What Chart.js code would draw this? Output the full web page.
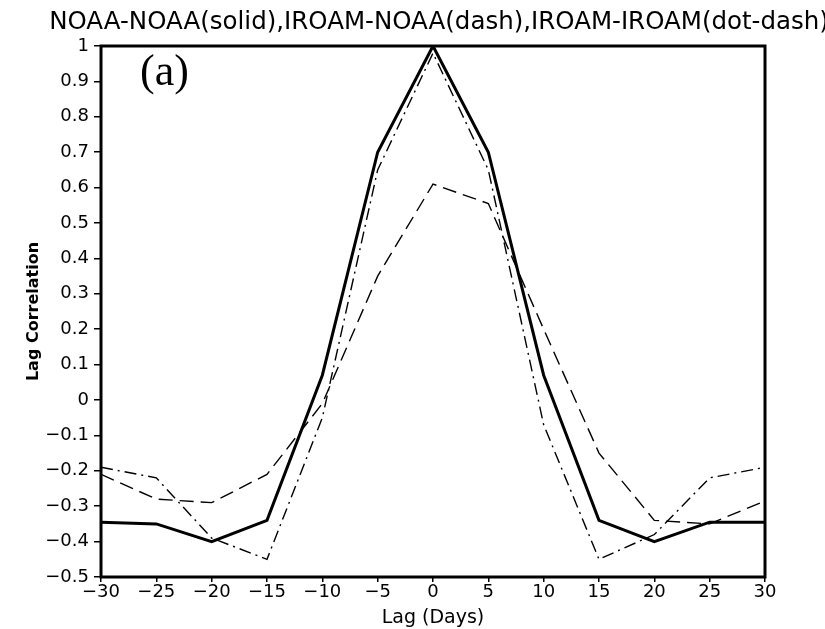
<!DOCTYPE html>
<html>
<head>
<meta charset="utf-8">
<script src="https://cdn.jsdelivr.net/npm/chart.js@4.4.1/dist/chart.umd.min.js"></script>
<style>
  html, body { margin: 0; padding: 0; background: #ffffff; }
  #wrap { width: 825px; height: 629px; }
</style>
</head>
<body>
<div id="wrap"><canvas id="lagChart" width="825" height="629"></canvas></div>
<script>
const lagDays = [-30, -25, -20, -15, -10, -5, 0, 5, 10, 15, 20, 25, 30];
const noaaNoaa = [-0.345, -0.35, -0.40, -0.34, 0.07, 0.70, 1.0, 0.70, 0.07, -0.34, -0.40, -0.345, -0.345];
const iroamNoaa = [-0.21, -0.28, -0.29, -0.21, -0.01, 0.35, 0.61, 0.555, 0.20, -0.15, -0.34, -0.35, -0.285];
const iroamIroam = [-0.19, -0.22, -0.39, -0.45, -0.05, 0.65, 0.98, 0.65, -0.07, -0.45, -0.38, -0.22, -0.19];

const titleText = "NOAA-NOAA(solid),IROAM-NOAA(dash),IROAM-IROAM(dot-dash)";
const panelLabel = "(a)";

function toPoints(values) {
  return lagDays.map((d, i) => ({ x: d, y: values[i] }));
}

// frame round the plot, title on top and the panel letter
const frameAndText = {
  id: "frameAndText",
  afterDraw(chart) {
    const { ctx, chartArea } = chart;
    ctx.save();
    ctx.strokeStyle = "#000";
    ctx.lineWidth = 3;
    ctx.strokeRect(chartArea.left, chartArea.top, chartArea.right - chartArea.left, chartArea.bottom - chartArea.top);

    ctx.fillStyle = "#000";
    ctx.font = "24.5px 'DejaVu Sans'";
    ctx.textBaseline = "middle";
    ctx.textAlign = "center";
    ctx.fillText(titleText, (chartArea.left + chartArea.right) / 2 + 6, 23);

    ctx.font = "44px 'Liberation Serif'";
    ctx.textAlign = "left";
    ctx.textBaseline = "alphabetic";
    ctx.fillText(panelLabel, chartArea.left + 39, chartArea.top + 39);
    ctx.restore();
  },
};

const ctx = document.getElementById("lagChart").getContext("2d");
new Chart(ctx, {
  type: "line",
  data: {
    datasets: [
      {
        label: "NOAA-NOAA",
        data: toPoints(noaaNoaa),
        borderColor: "#000",
        borderWidth: 3,
        pointRadius: 0,
        tension: 0,
      },
      {
        label: "IROAM-NOAA",
        data: toPoints(iroamNoaa),
        borderColor: "#000",
        borderWidth: 1.4,
        borderDash: [14, 7],
        pointRadius: 0,
        tension: 0,
      },
      {
        label: "IROAM-IROAM",
        data: toPoints(iroamIroam),
        borderColor: "#000",
        borderWidth: 1.4,
        borderDash: [12, 5, 2, 5],
        pointRadius: 0,
        tension: 0,
      },
    ],
  },
  options: {
    responsive: false,
    animation: false,
    layout: { padding: { top: 46, right: 60, bottom: 0, left: 0 } },
    plugins: { legend: { display: false }, tooltip: { enabled: false } },
    scales: {
      x: {
        type: "linear",
        min: -30,
        max: 30,
        afterFit(scale) { scale.height = 52; },
        ticks: {
          stepSize: 5,
          color: "#000",
          font: { family: "DejaVu Sans", size: 18 },
          padding: 0,
          maxRotation: 0,
          callback: (v) => String(v).replace("-", "\u2212"),
        },
        grid: { drawOnChartArea: false, drawTicks: true, tickLength: 5, color: "#000", lineWidth: 1.5 },
        border: { display: false },
        title: { display: true, text: "Lag (Days)", color: "#000", font: { family: "DejaVu Sans", size: 19 }, padding: { top: 0, bottom: 0 } },
      },
      y: {
        type: "linear",
        min: -0.5,
        max: 1,
        afterFit(scale) { scale.width = 101; },
        ticks: {
          stepSize: 0.1,
          color: "#000",
          font: { family: "DejaVu Sans", size: 18 },
          padding: 5,
          callback: (v) => String(Math.round(v * 10) / 10).replace("-", "\u2212"),
        },
        grid: { drawOnChartArea: false, drawTicks: true, tickLength: 7, color: "#000", lineWidth: 1.5 },
        border: { display: false },
        title: { display: true, text: "Lag Correlation", color: "#000", font: { family: "DejaVu Sans", size: 16, weight: "bold" }, padding: { top: 24, bottom: 0 } },
      },
    },
  },
  plugins: [frameAndText],
});
</script>
</body>
</html>
